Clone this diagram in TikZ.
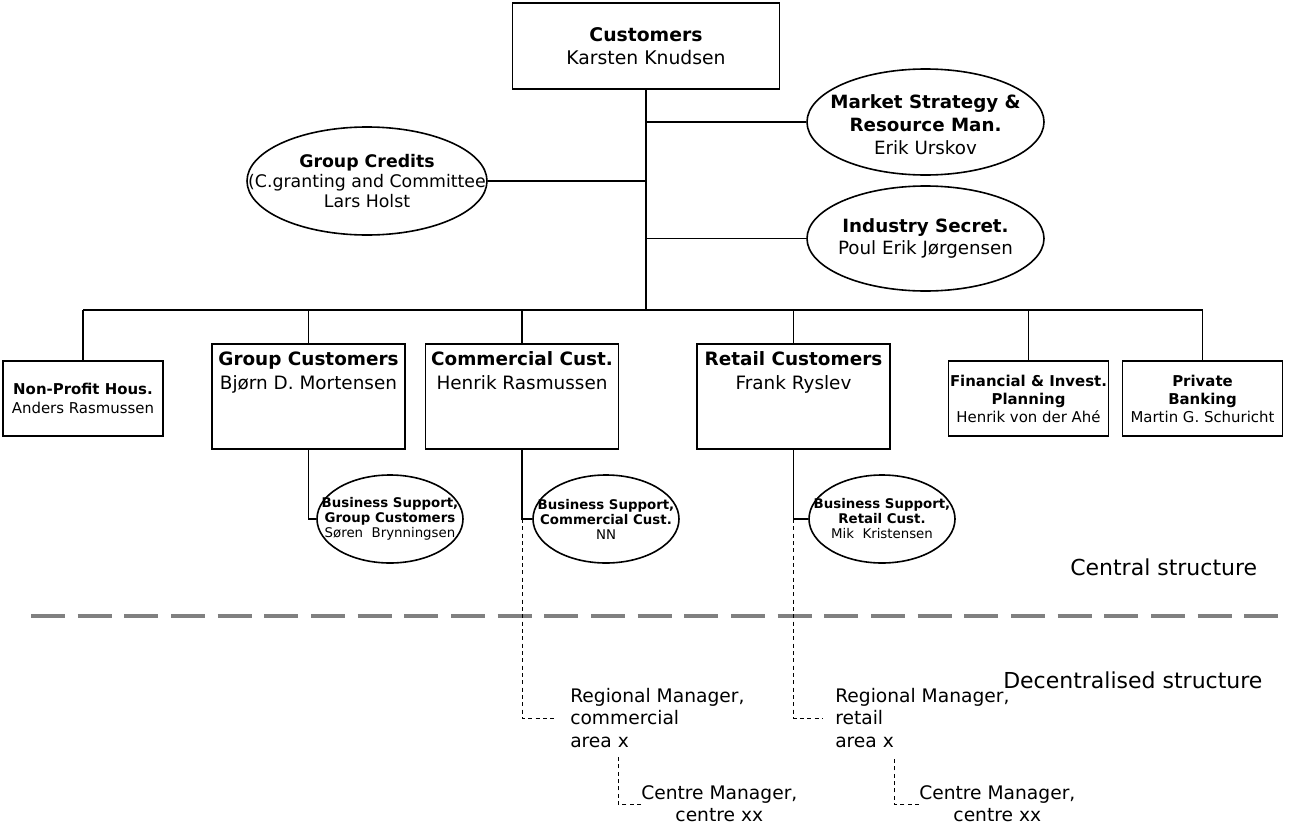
\documentclass[tikz,border=0pt]{standalone}
\usepackage{fontspec}
\setmainfont{DejaVu Sans}
\usetikzlibrary{shapes.geometric,positioning}
\definecolor{sepgray}{RGB}{128,128,128}

\begin{document}
\begin{tikzpicture}[x=0.75pt, y=-0.75pt,
  box/.style={rectangle, draw, line width=1.2pt, align=center, inner sep=0pt},
  topbox/.style={box, minimum width=200.25pt, minimum height=64.5pt, font=\fontsize{14.1}{17.25}\selectfont},
  midbox/.style={box, minimum width=144.75pt, minimum height=78.75pt},
  smallbox/.style={box, minimum width=120pt, minimum height=56.25pt, font=\fontsize{11.2}{14.5}\selectfont},
  boxtext/.style={anchor=north, yshift=-6pt, inner sep=0pt, align=center, font=\fontsize{13.8}{18}\selectfont},
  bigell/.style={ellipse, draw, line width=1.2pt, inner sep=0pt},
  subell/.style={ellipse, draw, line width=1.2pt, inner sep=0pt, minimum width=109.5pt, minimum height=66pt},
  elltext/.style={inner sep=0pt, align=center},
  link/.style={line width=1.2pt},
  dashlink/.style={line width=0.75pt, dash pattern=on 3pt off 2.5pt},
  sepline/.style={line width=3.4pt, draw=sepgray, dash pattern=on 25.5pt off 9.5pt},
  regtext/.style={align=left, anchor=west, inner xsep=9.75pt, inner ysep=0pt, font=\fontsize{14}{17}\selectfont},
  ctrtext/.style={align=center, anchor=west, inner sep=0pt, font=\fontsize{14}{16.5}\selectfont},
  areatext/.style={anchor=west, inner sep=0pt, font=\fontsize{16.5}{20}\selectfont}]
  \useasboundingbox (0,0) rectangle (1289,828);

  % top of the tree
  \node[topbox] (cust) at (646,46) {\textbf{Customers}\\Karsten Knudsen};
  \coordinate (hub) at (646,310);
  \node[bigell, minimum width=180pt, minimum height=81pt,
    label={[elltext, font=\fontsize{13}{15}\selectfont]center:{\textbf{Group Credits}\\(C.granting and Committee\\Lars Holst}}] (gcred) at (367,181) {};
  \node[bigell, minimum width=177.75pt, minimum height=79.5pt,
    label={[elltext, yshift=-2pt, font=\fontsize{13.7}{17}\selectfont]center:{\textbf{Market Strategy \&}\\\textbf{Resource Man.}\\Erik Urskov}}] (mkt) at (925.5,122) {};
  \node[bigell, minimum width=177.75pt, minimum height=78.75pt,
    label={[elltext, font=\fontsize{13.7}{17}\selectfont]center:{\textbf{Industry Secret.}\\Poul Erik Jørgensen}}] (ind) at (925.5,238.5) {};

  \draw[link] (cust.south) -- (hub);
  \draw[link] (gcred.east) -- (gcred.east -| hub);
  \draw[link] (mkt.west) -- (mkt.west -| hub);
  \draw[link] (ind.west) -- (ind.west -| hub);

  % second level
  \node[smallbox] (npf) at (83,398.5) {\textbf{Non-Profit Hous.}\\Anders Rasmussen};
  \node[midbox, label={[boxtext]north:{\textbf{Group Customers}\\Bjørn D. Mortensen}}] (grp) at (308.5,396.5) {};
  \node[midbox, label={[boxtext]north:{\textbf{Commercial Cust.}\\Henrik Rasmussen}}] (com) at (522,396.5) {};
  \node[midbox, label={[boxtext]north:{\textbf{Retail Customers}\\Frank Ryslev}}] (ret) at (793.5,396.5) {};
  \node[smallbox, font=\fontsize{11.2}{13.5}\selectfont] (fin) at (1028.5,398.5) {\textbf{Financial \& Invest.}\\\textbf{Planning}\\Henrik von der Ahé};
  \node[smallbox, font=\fontsize{11.2}{13.5}\selectfont] (pbk) at (1202.5,398.5) {\textbf{Private}\\\textbf{Banking}\\Martin G. Schuricht};

  \draw[link] (npf.north |- hub) -- (pbk.north |- hub);
  \foreach \n in {npf,grp,com,ret,fin,pbk}
    \draw[link] (\n.north) -- (\n.north |- hub);

  % business support
  \node[subell, label={[elltext, font=\fontsize{10}{11.25}\selectfont]center:{\textbf{Business Support,}\\\textbf{Group Customers}\\Søren\ \ Brynningsen}}] (bsg) at (390,519) {};
  \node[subell, label={[elltext, font=\fontsize{10}{11.25}\selectfont]center:{\textbf{Business Support,}\\\textbf{Commercial Cust.}\\NN}}] (bsc) at (606,519) {};
  \node[subell, label={[elltext, font=\fontsize{10}{11.25}\selectfont]center:{\textbf{Business Support,}\\\textbf{Retail Cust.}\\Mik\ \ Kristensen}}] (bsr) at (882,519) {};
  \draw[link] (grp.south) |- (bsg.west);
  \draw[link] (com.south) |- (bsc.west);
  \draw[link] (ret.south) |- (bsr.west);

  % central / decentral
  \draw[sepline] (31,616) -- (1289,616);
  \node[areatext] (cen) at (1070,567) {Central structure};
  \node[areatext] (dec) at (1003,680) {Decentralised structure};

  % regional lines
  \node[regtext] (reg1) at (557,718) {Regional Manager,\\commercial\\area x};
  \node[regtext] (reg2) at (822,718) {Regional Manager,\\retail\\area x};
  \node[ctrtext] (ctr1) at (641,804) {Centre Manager,\\centre xx};
  \node[ctrtext] (ctr2) at (919,804) {Centre Manager,\\centre xx};
  \draw[dashlink] (com.south |- bsc.west) |- (reg1.west);
  \draw[dashlink] (ret.south |- bsr.west) |- (reg2.west);
  \draw[dashlink] (ctr1.west) -- ++(-23,0) -- ++(0,-48);
  \draw[dashlink] (ctr2.west) -- ++(-25,0) -- ++(0,-48);
\end{tikzpicture}
\end{document}
